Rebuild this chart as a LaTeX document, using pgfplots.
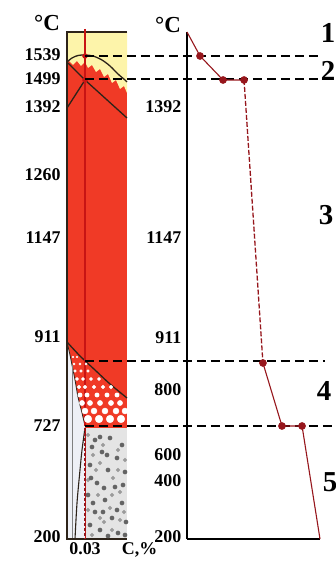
\documentclass[border=0pt]{standalone}
\usepackage{pgfplots}
\pgfplotsset{compat=1.18}
\usepackage{fontspec}
\setmainfont{Liberation Serif}
\definecolor{fered}{RGB}{240,58,38}
\definecolor{feyel}{RGB}{253,244,170}
\definecolor{dline}{RGB}{45,35,25}
\definecolor{vred}{RGB}{200,20,20}
\definecolor{cred}{RGB}{150,22,28}
\definecolor{alph}{RGB}{238,240,246}
\definecolor{perl}{RGB}{228,228,228}
\definecolor{blobd}{RGB}{100,100,100}
\definecolor{blobm}{RGB}{155,155,155}
\newcommand\tf{\fontsize{18}{20}\selectfont\bfseries}
\newcommand\bigf{\fontsize{29}{31}\selectfont\bfseries}
\newcommand\degf{\fontsize{23}{25}\selectfont\bfseries}
\pgfplotsset{dots/.style={only marks, mark=*, color=#1, mark options={draw=none, fill=#1}}}
\begin{document}
\begin{tikzpicture}
% ---------------- left panel: phase diagram fragment ----------------
\begin{axis}[
  at={(67bp,22bp)}, anchor=south west,
  scale only axis, width=60bp, height=507bp,
  xmin=0, xmax=0.1, ymin=22, ymax=529,
  axis line style={draw=none}, tick style={draw=none},
  xtick={0.03}, xticklabels={0.03},
  ytick={24,135,224,323,386,454,482,506},
  yticklabels={200,727,911,1147,1260,1392,1499,1539},
  /pgf/number format/assume math mode=true,
  tick label style={font=\tf},
  yticklabel style={xshift=-3bp},
  clip=false,
]
% base red (gamma)
\addplot[draw=none, fill=fered] coordinates {(0,22) (0.1,22) (0.1,529) (0,529)} -- cycle;
% liquid (yellow) with flame-like lower edge
\addplot[draw=none, fill=feyel] coordinates {(0,529) (0.1,529) (0.1,468) (0.095,475) (0.08833,472) (0.08167,481) (0.075,478) (0.06833,487) (0.06167,484) (0.055,492) (0.04833,489) (0.04167,496) (0.035,493) (0.03,499) (0.02333,495) (0.01667,500) (0.01,496) (0.00333,500) (0,499)} -- cycle;
% alpha ferrite region
\addplot[draw=none, fill=alph] coordinates {(0,219) (0.005,206) (0.00833,196) (0.01333,181) (0.01833,164) (0.025,148) (0.03,135) (0.03,22) (0,22)} -- cycle;
% below 727
\addplot[draw=none, fill=perl] coordinates {(0.03,133) (0.1,133) (0.1,22) (0.03,22)} -- cycle;
% white ferrite grains in gamma
\addplot[dots=white, mark size=3.8bp] coordinates {(0.035,142) (0.05333,142) (0.07167,142) (0.09,142)};
\addplot[dots=white, mark size=3.0bp] coordinates {(0.03,150) (0.045,150) (0.06333,150) (0.08167,150) (0.09667,150)};
\addplot[dots=white, mark size=2.6bp] coordinates {(0.025,158) (0.03833,158) (0.055,158) (0.07333,158) (0.08833,158)};
\addplot[dots=white, mark size=2.2bp] coordinates {(0.02167,166) (0.03333,166) (0.05,166) (0.06667,166) (0.08333,166)};
\addplot[dots=white, mark size=1.9bp] coordinates {(0.02,174) (0.03,174) (0.045,174) (0.06,174) (0.07333,174)};
\addplot[dots=white, mark size=1.6bp] coordinates {(0.01667,182) (0.02667,182) (0.04,182) (0.05333,182)};
\addplot[dots=white, mark size=1.3bp] coordinates {(0.01333,190) (0.02333,190) (0.035,190)};
\addplot[dots=white, mark size=1.1bp] coordinates {(0.01167,197) (0.02167,197) (0.03167,197)};
\addplot[dots=white, mark size=0.9bp] coordinates {(0.01,204) (0.01667,204)};
% pearlite-like grains
\addplot[dots=blobm, mark size=1.8bp] coordinates {(0.035,126) (0.06,116) (0.085,111) (0.04333,106) (0.09667,101) (0.055,98) (0.07667,83) (0.035,81) (0.08833,69) (0.05167,66) (0.07167,53) (0.035,51) (0.095,49) (0.06167,39) (0.04167,26) (0.075,31) (0.075,66) (0.04833,91) (0.085,91) (0.055,43) (0.08833,41)};
\addplot[dots=blobd, mark size=2.1bp] coordinates {(0.04667,121) (0.07167,123) (0.09167,116) (0.05833,109) (0.08333,103) (0.03833,96) (0.06833,91) (0.09667,89) (0.05,78) (0.08,74) (0.035,66) (0.06333,61) (0.09167,58) (0.04667,49) (0.075,43) (0.09833,39) (0.055,31) (0.085,28) (0.03833,36) (0.055,124) (0.06667,106) (0.04167,114) (0.09333,76) (0.06167,73) (0.04333,58) (0.08333,51) (0.06,49) (0.09667,26) (0.06833,25) (0.04,83)};
% phase boundaries
\addplot[dline, line width=1.3bp, smooth] coordinates {(0,499) (0.00833,503) (0.01833,505.5) (0.03,506) (0.04333,505) (0.05833,501) (0.07167,495) (0.085,487) (0.09667,481) (0.1,479)};
\addplot[dline, line width=1.3bp] coordinates {(0.00167,498) (0.03,481) (0.1,443)};
\addplot[dline, line width=1.3bp] coordinates {(0,453) (0.03,481)};
\addplot[dline, line width=1.3bp, smooth] coordinates {(0,219) (0.02167,205) (0.04667,191) (0.07167,177) (0.1,163)};
\addplot[dline, line width=0.8bp, smooth] coordinates {(0,219) (0.005,206) (0.00833,196) (0.01333,181) (0.01833,164) (0.025,148) (0.03,135)};
\addplot[dline, line width=1.1bp, smooth] coordinates {(0.03,133) (0.025,111) (0.02167,91) (0.01667,58) (0.01333,22)};
\addplot[gray, line width=0.8bp] coordinates {(0.00833,196) (0.00833,22)};
% frame
\addplot[dline, line width=1.5bp] coordinates {(0.1,529) (0,529) (0,22) (0.1,22)};
% alloy line 0.03 %C
\addplot[vred, line width=1.2bp] coordinates {(0.03,532) (0.03,135)};
\addplot[vred, line width=0.8bp] coordinates {(0.03,133) (0.03,22)};
\addplot[cred, line width=1.8bp, dash pattern=on 3bp off 2bp] coordinates {(0.03,133) (0.03,22)};
\addplot[dots=vred, mark size=2.5bp] coordinates {(0.03,505) (0.03,481)};
\node[font=\degf] at (axis cs:-0.0333,538) {°C};
\node[font=\tf, anchor=north, inner sep=0.3333em] at (axis cs:0.121,22) {C,\%};
\end{axis}
% ---------------- right panel: cooling curve ----------------
\begin{axis}[
  at={(187bp,22bp)}, anchor=south west,
  scale only axis, width=133bp, height=507bp,
  xmin=0, xmax=10, ymin=22, ymax=529,
  axis x line=bottom, axis y line=left,
  axis line style={-, black, line width=1.3bp},
  tick style={draw=none},
  xtick=\empty,
  ytick={24,80,106,171,223,323,454},
  yticklabels={200,400,600,800,911,1147,1392},
  /pgf/number format/assume math mode=true,
  tick label style={font=\tf},
  clip=false,
]
\addplot[black, line width=1.6bp, dash pattern=on 9bp off 5bp] coordinates {(-7.67,505) (10,505)};
\addplot[black, line width=1.6bp, dash pattern=on 9bp off 5bp] coordinates {(-7.67,482) (10,482)};
\addplot[black, line width=1.6bp, dash pattern=on 9bp off 5bp] coordinates {(-7.67,200) (10.38,200)};
\addplot[black, line width=1.6bp, dash pattern=on 9bp off 5bp] coordinates {(-7.67,135) (11.2,135)};
\addplot[cred, line width=1.1bp] coordinates {(0,529) (0.98,505) (2.71,481) (4.29,481)};
\addplot[cred, line width=1.3bp, dash pattern=on 5bp off 2bp] coordinates {(4.29,481) (5.71,198)};
\addplot[cred, line width=1.1bp] coordinates {(5.71,198) (7.14,135) (8.65,135) (10,22)};
\addplot[dots=cred, mark size=3.6bp] coordinates {(0.98,505) (2.71,481) (4.29,481) (5.71,198) (7.14,135) (8.65,135)};
\node[font=\degf] at (axis cs:-1.43,536) {°C};
\node[font=\bigf] at (axis cs:10.6,528) {1};
\node[font=\bigf] at (axis cs:10.6,490) {2};
\node[font=\bigf] at (axis cs:10.45,346) {3};
\node[font=\bigf] at (axis cs:10.3,170) {4};
\node[font=\bigf] at (axis cs:10.75,79) {5};
\end{axis}
\pgfresetboundingbox
\path[use as bounding box] (0,0) rectangle (336bp,561bp);
\end{tikzpicture}
\end{document}
